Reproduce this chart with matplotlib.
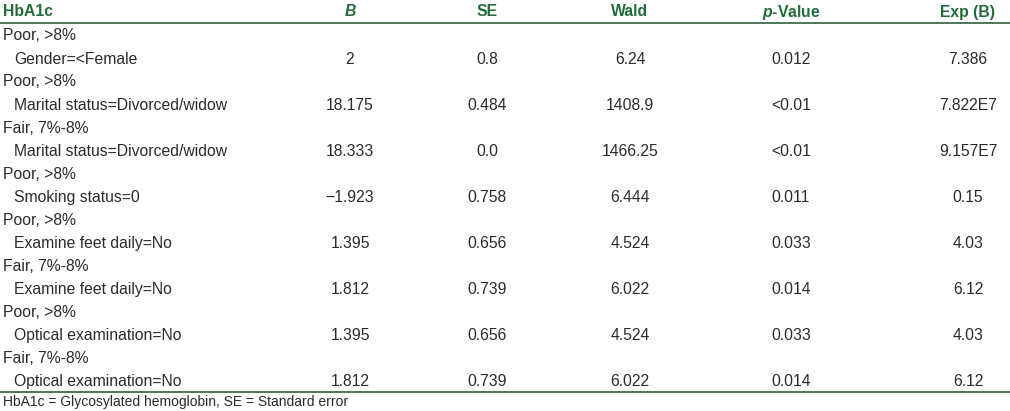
import matplotlib.pyplot as plt

# Table contents
headers = ["HbA1c", "B", "SE", "Wald", "p-Value", "Exp (B)"]
groups = ["Poor, >8%", "Poor, >8%", "Fair, 7%-8%", "Poor, >8%",
          "Poor, >8%", "Fair, 7%-8%", "Poor, >8%", "Fair, 7%-8%"]
variables = ["Gender=<Female", "Marital status=Divorced/widow",
             "Marital status=Divorced/widow", "Smoking status=0",
             "Examine feet daily=No", "Examine feet daily=No",
             "Optical examination=No", "Optical examination=No"]
b_vals = ["2", "18.175", "18.333", "\u22121.923", "1.395", "1.812", "1.395", "1.812"]
se_vals = ["0.8", "0.484", "0.0", "0.758", "0.656", "0.739", "0.656", "0.739"]
wald_vals = ["6.24", "1408.9", "1466.25", "6.444", "4.524", "6.022", "4.524", "6.022"]
p_vals = ["0.012", "<0.01", "<0.01", "0.011", "0.033", "0.014", "0.033", "0.014"]
exp_vals = ["7.386", "7.822E7", "9.157E7", "0.15", "4.03", "6.12", "4.03", "6.12"]
footnote = "HbA1c = Glycosylated hemoglobin, SE = Standard error"

plt.rcParams['font.family'] = ['Liberation Sans', 'DejaVu Sans']
plt.rcParams['mathtext.fontset'] = 'custom'
plt.rcParams['mathtext.bfit'] = 'Liberation Sans:bold:italic'
green = '#236b3a'
rule = '#2f5f3c'
body = '#2b2b2b'
fs = 11.3

fig = plt.figure(figsize=(10.10, 4.11), dpi=100)
ax = fig.add_axes([0, 0, 1, 1])
ax.set_xlim(0, 1010)
ax.set_ylim(411, 0)
ax.axis('off')

col_x = [350, 487, 630, 791, 968]

# header
ax.text(3, 12, headers[0], color=green, fontsize=fs, fontweight='bold', va='center', ha='left')
for i, h in enumerate(headers[1:]):
    if h == "B":
        ax.text(col_x[i], 12, "B", color=green, fontsize=fs, fontweight='bold',
                style='italic', va='center', ha='center')
    elif h == "p-Value":
        ax.text(col_x[i], 12, r"$\mathbfit{p}$" + "-Value", color=green, fontsize=fs,
                fontweight='bold', va='center', ha='center')
    else:
        ax.text(col_x[i], 12, h, color=green, fontsize=fs, fontweight='bold',
                va='center', ha='center')

ax.plot([0, 1010], [23.5, 23.5], color=rule, lw=1.2)

y = 36
step = 23
for k in range(len(groups)):
    ax.text(3, y, groups[k], color=body, fontsize=fs, va='center', ha='left')
    y += step
    ax.text(14, y, variables[k], color=body, fontsize=fs, va='center', ha='left')
    row = [b_vals[k], se_vals[k], wald_vals[k], p_vals[k], exp_vals[k]]
    for cx, v in zip(col_x, row):
        ax.text(cx, y, v, color=body, fontsize=fs, va='center', ha='center')
    y += step

ax.plot([0, 1010], [391.5, 391.5], color=rule, lw=1.2)
ax.text(3, 402, footnote, color=body, fontsize=10.0, va='center', ha='left')

fig.savefig("out.png", dpi=100)
